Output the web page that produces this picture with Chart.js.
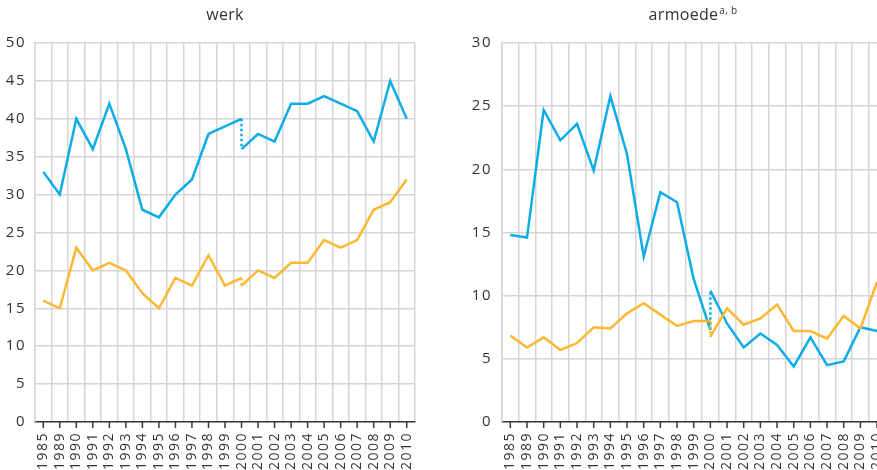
<!DOCTYPE html>
<html>
<head>
<meta charset="utf-8">
<script src="https://cdn.jsdelivr.net/npm/chart.js@4/dist/chart.umd.min.js"></script>
<style>
  html, body { margin: 0; padding: 0; background: #fff; width: 877px; height: 470px; overflow: hidden; }
  .panel { position: absolute; top: 0; }
  .title { position: absolute; top: 3px; font: 16px "Open Sans", sans-serif; color: #333; letter-spacing: 0.3px; white-space: nowrap; transform: translateX(-50%); }
  .title sup { font-size: 10px; vertical-align: 6px; margin-left: 1px; }
</style>
</head>
<body>
<div class="panel" style="left:0;width:440px;height:470px"><canvas id="werkChart" width="440" height="470"></canvas></div>
<div class="panel" style="left:440px;width:464px;height:470px"><canvas id="armoedeChart" width="464" height="470"></canvas></div>
<div class="title" style="left:225px">werk</div>
<div class="title" style="left:693px">armoede<sup>a, b</sup></div>
<script>
// Two panels, each with a series break in 2000 (old series ends, new series starts)

const YEARS = ['1985','1989','1990','1991','1992','1993','1994','1995','1996','1997','1998','1999','2000',
               '2001','2002','2003','2004','2005','2006','2007','2008','2009','2010'];
const BREAK = '2000';

// werk: old series 1985–2000, new series 2000–2010
const WERK_BLUE_OLD = [33, 30, 40, 36, 42, 36, 28, 27, 30, 32, 38, 39, 40];
const WERK_BLUE_NEW = [36, 38, 37, 42, 42, 43, 42, 41, 37, 45, 40];
const WERK_ORANGE_OLD = [16, 15, 23, 20, 21, 20, 17, 15, 19, 18, 22, 18, 19];
const WERK_ORANGE_NEW = [18, 20, 19, 21, 21, 24, 23, 24, 28, 29, 32];

// armoede
const ARM_BLUE_OLD = [14.8, 14.6, 24.7, 22.3, 23.6, 19.9, 25.8, 21.2, 13.1, 18.2, 17.4, 11.3, 7.3];
const ARM_BLUE_NEW = [10.4, 7.8, 5.9, 7.0, 6.1, 4.4, 6.7, 4.5, 4.8, 7.5, 7.2];
const ARM_ORANGE_OLD = [6.85, 5.9, 6.7, 5.7, 6.25, 7.5, 7.4, 8.6, 9.4, 8.5, 7.6, 8.0, 8.0];
const ARM_ORANGE_NEW = [6.75, 9.0, 7.7, 8.2, 9.3, 7.2, 7.2, 6.6, 8.4, 7.4, 11.1];

const BLUE = '#0BADE8';
const ORANGE = '#FBB830';
const GRID = '#d5d5d5';
const AXIS = '#3a3a3a';
const TEXT = '#333';
const FONT = 'Open Sans';

// pad the old/new pieces onto the full year axis
function oldSeries(vals) {
  return YEARS.map((y, i) => i < vals.length ? vals[i] : null);
}
function newSeries(vals) {
  const start = YEARS.indexOf(BREAK);
  return YEARS.map((y, i) => i >= start ? vals[i - start] : null);
}

function lineSet(data, color) {
  return { data: data, borderColor: color, borderWidth: 2.5, pointRadius: 0, fill: false, tension: 0, spanGaps: false };
}
function breakSet(oldVals, newVals, color) {
  return {
    data: [{ x: BREAK, y: oldVals[oldVals.length - 1] }, { x: BREAK, y: newVals[0] }],
    borderColor: color, borderWidth: 2.5, borderDash: [2.5, 2.5], pointRadius: 0, fill: false
  };
}

// tick marks under the axis at each label, grid lines sit between labels
const centerTicks = {
  id: 'centerTicks',
  afterDraw(chart) {
    const x = chart.scales.x;
    const ctx = chart.ctx;
    ctx.save();
    ctx.strokeStyle = AXIS;
    ctx.lineWidth = 1.5;
    ctx.beginPath();
    x.ticks.forEach((t, i) => {
      const px = x.getPixelForTick(i);
      ctx.moveTo(px, x.top);
      ctx.lineTo(px, x.top + 6);
    });
    ctx.stroke();
    ctx.restore();
  }
};

const spacing = {
  id: 'spacing',
  beforeDraw(chart) { chart.ctx.letterSpacing = '1.5px'; }
};

function makeChart(id, max, yWidth, yPad, rightPad, blueOld, blueNew, orangeOld, orangeNew) {
  return new Chart(document.getElementById(id), {
    type: 'line',
    data: {
      labels: YEARS,
      datasets: [
        lineSet(oldSeries(orangeOld), ORANGE),
        lineSet(newSeries(orangeNew), ORANGE),
        breakSet(orangeOld, orangeNew, ORANGE),
        lineSet(oldSeries(blueOld), BLUE),
        lineSet(newSeries(blueNew), BLUE),
        breakSet(blueOld, blueNew, BLUE)
      ]
    },
    options: {
      responsive: false,
      animation: false,
      layout: { padding: { top: 43, right: rightPad, left: 0, bottom: 0 } },
      plugins: { legend: { display: false }, tooltip: { enabled: false }, title: { display: false } },
      scales: {
        x: {
          type: 'category',
          offset: true,
          grid: { offset: true, color: GRID, lineWidth: 1.5, drawTicks: false },
          border: { color: AXIS, width: 1.5 },
          ticks: { autoSkip: false, minRotation: 90, maxRotation: 90, padding: 10, color: TEXT, font: { family: FONT, size: 14 } },
          afterFit: s => { s.height = 48; }
        },
        y: {
          min: 0, max: max,
          ticks: { stepSize: 5, padding: yPad, color: TEXT, font: { family: FONT, size: 15 } },
          grid: { color: GRID, lineWidth: 1.5, drawTicks: false },
          border: { color: GRID, width: 1.5 },
          afterFit: s => { s.width = yWidth; }
        }
      }
    },
    plugins: [spacing, centerTicks]
  });
}

makeChart('werkChart', 50, 35, 9, 25, WERK_BLUE_OLD, WERK_BLUE_NEW, WERK_ORANGE_OLD, WERK_ORANGE_NEW);
makeChart('armoedeChart', 30, 62, 10, 6, ARM_BLUE_OLD, ARM_BLUE_NEW, ARM_ORANGE_OLD, ARM_ORANGE_NEW);
</script>
</body>
</html>
